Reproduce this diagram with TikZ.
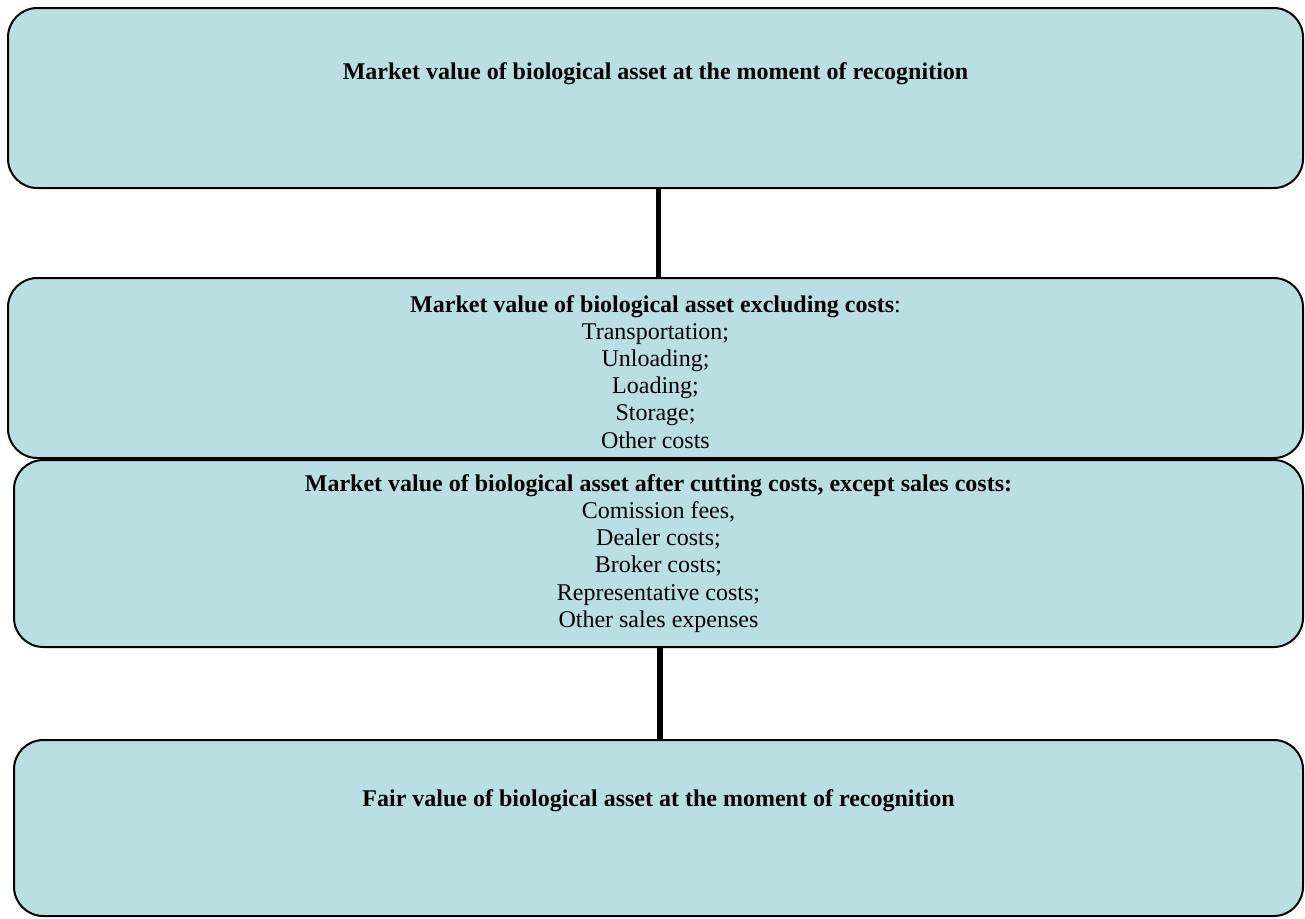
\documentclass[tikz,border=0pt]{standalone}
\usepackage{fontspec}
\setmainfont{Liberation Serif}
\usetikzlibrary{positioning}

\begin{document}
\begin{tikzpicture}[x=0.75pt,y=-0.75pt]
                        \useasboundingbox (0,0) rectangle (1305,918);

                        % Changing color 186 223 227
                        \definecolor{r186g223b227}{rgb}{0.729412,0.874510,0.890196}%

                        \tikzset{stagebox/.style={draw=black, line width=1.5pt, fill=r186g223b227, rounded corners=22pt, inner sep=0pt},
                                 stagetext/.style={align=center, font=\fontsize{18}{20.4}\selectfont, inner sep=0pt, anchor=north},
                                 stagelink/.style={line width=3.8pt}}

                        % Box for market value at recognition
                        \node [stagebox, minimum width=971.25pt, minimum height=135pt] (marketbox) at (655.5,98) {};%
                        \node [stagetext, below=41.5pt of marketbox.north] (markettext) {\textbf{Market value of biological asset at the moment of recognition}};%

                        % Box for market value excluding costs
                        \node [stagebox, minimum width=971.25pt, minimum height=135pt] (excludebox) at (655.5,368) {};%
                        \node [stagetext, below=13.5pt of excludebox.north] (excludetext) {\textbf{Market value of biological asset excluding costs}:\\
                            Transportation;\\ Unloading;\\ Loading;\\ Storage;\\ Other costs};%

                        % Box for market value after cutting costs
                        \node [stagebox, minimum width=966.75pt, minimum height=140.25pt] (cuttingbox) at (658.5,553.5) {};%
                        \node [stagetext, below=11.4pt of cuttingbox.north] (cuttingtext) {\textbf{Market value of biological asset after cutting costs, except sales costs:}\\
                            Comission fees,\\ Dealer costs;\\ Broker costs;\\ Representative costs;\\ Other sales expenses};%

                        % Box for fair value at recognition
                        \node [stagebox, minimum width=966.75pt, minimum height=132pt] (fairbox) at (658.5,828) {};%
                        \node [stagetext, below=38pt of fairbox.north] (fairtext) {\textbf{Fair value of biological asset at the moment of recognition}};%

                        % Drawing segment marketbox excludebox
                        \draw [stagelink] ([xshift=1.9pt]marketbox.south) -- ([xshift=1.9pt]excludebox.north);%

                        % Drawing segment cuttingbox fairbox
                        \draw [stagelink] ([xshift=1.1pt]cuttingbox.south) -- ([xshift=1.1pt]fairbox.north);%
                    \end{tikzpicture}
\end{document}
